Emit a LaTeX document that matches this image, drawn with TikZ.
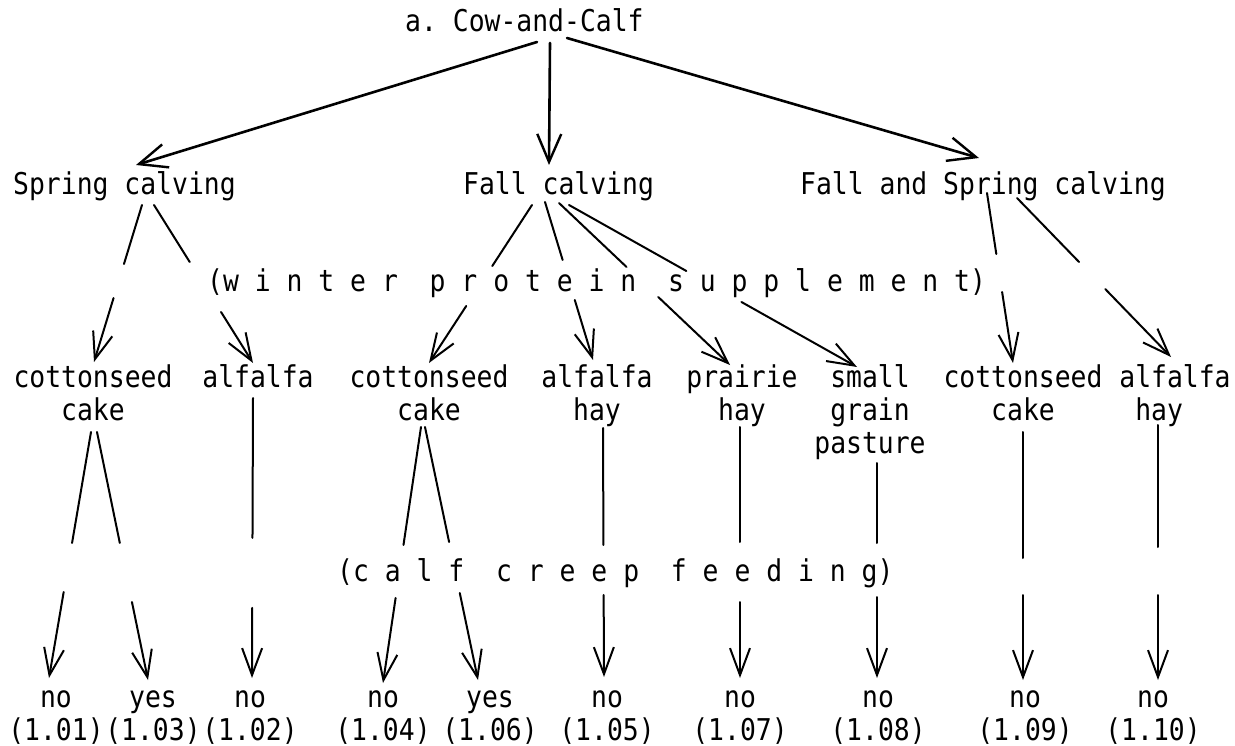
\documentclass[tikz,border=0pt]{standalone}
\usepackage{fontspec}
\setmonofont[FakeStretch=0.88]{DejaVu Sans Mono}
\usetikzlibrary{arrows.meta}
\tikzset{
  txt/.style={font=\ttfamily\fontsize{30}{33}\selectfont, inner sep=0pt, align=center},
  ln/.style={line width=2pt, line cap=round},
  arr/.style={ln, -{Straight Barb[length=27pt,width=20pt,line width=2pt]}},
  toparr/.style={line width=2.6pt, line cap=round, -{Straight Barb[length=28pt,width=24pt,line width=2.4pt]}}
}
\newcommand\gapline[4]{%
  \coordinate (gA) at (0,#3); \coordinate (gB) at (10,#3);
  \coordinate (gC) at (0,#4); \coordinate (gD) at (10,#4);
  \draw[ln] (#1) -- (intersection of #1--#2 and gA--gB);
  \draw[arr] (intersection of #1--#2 and gC--gD) -- (#2);
}
\begin{document}
\begin{tikzpicture}[x=1pt,y=-1pt]
\useasboundingbox (0,0) rectangle (1235,746);
% title and level 1
\node[txt, anchor=base west] (title) at (405,32) {a. Cow-and-Calf};
\node[txt, anchor=base west] (spring) at (13,195) {Spring calving};
\node[txt, anchor=base west] (fall) at (463,195) {Fall calving};
\node[txt, anchor=base west] (fs) at (800,195) {Fall and Spring calving};
% row labels
\node[txt, anchor=base west] (winter) at (207,291) {(w i n t e r\ \ p r o t e i n\ \ s u p p l e m e n t)};
\node[txt, anchor=base west] (creep) at (337,581) {(c a l f\ \ c r e e p\ \ f e e d i n g)};
% level 2 (base anchor = baseline of last line)
\node[txt, anchor=base] (cot1) at (93,420) {cottonseed\\cake};
\node[txt, anchor=base] (alf1) at (258,387) {alfalfa};
\node[txt, anchor=base] (cot2) at (429,420) {cottonseed\\cake};
\node[txt, anchor=base] (alfhay) at (597,420) {alfalfa\\hay};
\node[txt, anchor=base] (prairie) at (742,420) {prairie\\hay};
\node[txt, anchor=base] (small) at (870,453) {small\\grain\\pasture};
\node[txt, anchor=base] (cot3) at (1023,420) {cottonseed\\cake};
\node[txt, anchor=base, align=left] (alf3) at (1175,420) {alfalfa\\\phantom{a}hay};
% leaves
\node[txt, anchor=base] (l101) at (56,740) {no\\(1.01)};
\node[txt, anchor=base] (l103) at (153,740) {yes\\(1.03)};
\node[txt, anchor=base] (l102) at (250,740) {no\\(1.02)};
\node[txt, anchor=base] (l104) at (383,740) {no\\(1.04)};
\node[txt, anchor=base] (l106) at (490,740) {yes\\(1.06)};
\node[txt, anchor=base] (l105) at (607,740) {no\\(1.05)};
\node[txt, anchor=base] (l107) at (740,740) {no\\(1.07)};
\node[txt, anchor=base] (l108) at (878,740) {no\\(1.08)};
\node[txt, anchor=base] (l109) at (1025,740) {no\\(1.09)};
\node[txt, anchor=base] (l110) at (1153,740) {no\\(1.10)};
% connector ends
\coordinate (tA) at (537,42); \coordinate (tB) at (550,43); \coordinate (tC) at (567,38);
\coordinate (spIn) at (136,165); \coordinate (faIn) at (549,165); \coordinate (fsIn) at (979,158);
\coordinate (spA) at (142,205); \coordinate (spB) at (154,205);
\coordinate (faA) at (532,205); \coordinate (faB) at (545,202); \coordinate (faC) at (559,203); \coordinate (faD) at (569,205);
\coordinate (fsA) at (987,193); \coordinate (fsB) at (1017,198);
\coordinate (cot1In) at (94,362); \coordinate (alf1In) at (253,363); \coordinate (cot2In) at (429,363);
\coordinate (alfhayIn) at (593,360); \coordinate (prIn) at (730,365); \coordinate (smIn) at (857,367);
\coordinate (cot3In) at (1013,363); \coordinate (alf3In) at (1171,357);
\coordinate (c1A) at (91,432); \coordinate (c1B) at (97,432); \coordinate (a1O) at (253,398);
\coordinate (c2A) at (421,427); \coordinate (c2B) at (425,427); \coordinate (ahO) at (603,428);
\coordinate (prO) at (740,427); \coordinate (smO) at (877,463); \coordinate (c3O) at (1023,432); \coordinate (a3O) at (1158,425);
\coordinate (i101) at (49,678); \coordinate (i103) at (148,680); \coordinate (i102) at (252,678);
\coordinate (i104) at (383,683); \coordinate (i106) at (478,680); \coordinate (i105) at (604,677);
\coordinate (i107) at (740,678); \coordinate (i108) at (877,678); \coordinate (i109) at (1023,680); \coordinate (i110) at (1158,680);
% top arrows
\draw[toparr] (tA) -- (spIn);
\draw[toparr] (tB) -- (faIn);
\draw[toparr] (tC) -- (fsIn);
% winter protein supplement branches
\gapline{spA}{cot1In}{264}{298}
\gapline{spB}{alf1In}{262}{312}
\gapline{faA}{cot2In}{266}{306}
\gapline{faB}{alfhayIn}{260}{300}
\gapline{faC}{prIn}{267}{297}
\gapline{faD}{smIn}{271}{302}
\gapline{fsA}{cot3In}{254}{292}
\gapline{fsB}{alf3In}{262}{289}
% calf creep feeding branches
\gapline{c1A}{i101}{543}{592}
\gapline{c1B}{i103}{543}{602}
\gapline{a1O}{i102}{538}{608}
\gapline{c2A}{i104}{545}{598}
\gapline{c2B}{i106}{542}{593}
\gapline{ahO}{i105}{545}{595}
\gapline{prO}{i107}{542}{602}
\gapline{smO}{i108}{543}{597}
\gapline{c3O}{i109}{558}{595}
\gapline{a3O}{i110}{547}{595}
\end{tikzpicture}
\end{document}
